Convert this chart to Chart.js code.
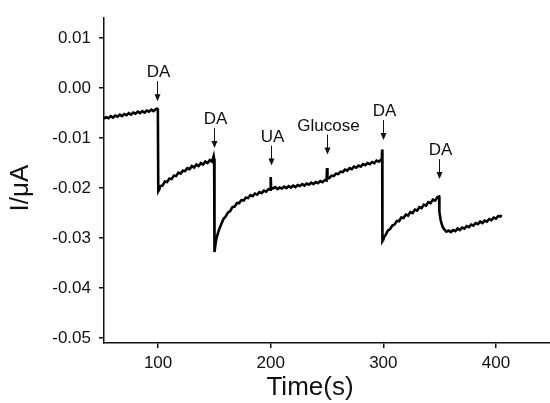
<!DOCTYPE html>
<html>
<head>
<meta charset="utf-8">
<script src="https://cdn.jsdelivr.net/npm/chart.js@4"></script>
<style>
  body { margin: 0; background: #fff; }
  #wrap { width: 550px; height: 403px; }
</style>
</head>
<body>
<div id="wrap"><canvas id="ampChart" width="550" height="403"></canvas></div>
<script>
// amperometric trace
const timeS = [
  52, 54, 56, 58, 60, 62, 64, 66, 68, 70, 72, 74, 76, 78, 80, 82, 84, 86, 88, 90, 92, 94, 96, 98, 99.5, 99.8,
  100.2, 101, 102, 104, 106, 108, 110, 112, 114, 116, 118, 120, 122, 124, 126, 128, 130, 132, 134, 136, 138, 140,
  142, 144, 146, 148, 149.4, 149.8,
  150.1, 151, 152, 154, 156, 158, 160, 162, 164, 166, 168, 170, 172, 174, 176, 178, 180, 182, 184, 186, 188, 190,
  192, 194, 196, 198, 199.6, 200, 200.4, 202, 204, 206, 208, 210, 212, 214, 216, 218, 220, 222, 224, 226, 228, 230,
  232, 234, 236, 238, 240, 242, 244, 246, 248, 249.6, 250, 250.4, 252, 254, 256, 258, 260, 262, 264, 266, 268, 270,
  272, 274, 276, 278, 280, 282, 284, 286, 288, 290, 292, 294, 296, 298, 298.6, 299,
  299.2, 300, 301, 302, 304, 306, 308, 310, 312, 314, 316, 318, 320, 322, 324, 326, 328, 330, 332, 334, 336, 338,
  340, 342, 344, 346, 348, 349.5,
  349.8, 351, 352, 353, 354, 356, 358, 360, 362, 364, 366, 368, 370, 372, 374, 376, 378, 380, 382, 384, 386, 388,
  390, 392, 394, 396, 398, 400, 402, 404, 405
];
const currentUA = [
  -0.0061, -0.0058, -0.0060, -0.0056, -0.0059, -0.0055, -0.0057, -0.0053, -0.0056, -0.0052, -0.0054, -0.0050, -0.0053,
  -0.0049, -0.0051, -0.0047, -0.0050, -0.0046, -0.0049, -0.0045, -0.0047, -0.0043, -0.0046, -0.0042, -0.0041, -0.0040,
  -0.0206, -0.0203, -0.0196, -0.0195, -0.0187, -0.0188, -0.0181, -0.0182, -0.0175, -0.0176, -0.0169, -0.0171, -0.0165,
  -0.0166, -0.0160, -0.0162, -0.0156, -0.0159, -0.0153, -0.0156, -0.0150, -0.0153, -0.0147, -0.0150, -0.0144, -0.0147,
  -0.0136, -0.0142,
  -0.0328, -0.0312, -0.0299, -0.0284, -0.0273, -0.0262, -0.0257, -0.0249, -0.0246, -0.0238, -0.0237, -0.0230, -0.0230,
  -0.0224, -0.0225, -0.0219, -0.0220, -0.0214, -0.0216, -0.0211, -0.0213, -0.0208, -0.0210, -0.0205, -0.0207, -0.0202,
  -0.0203, -0.0178, -0.0199, -0.0201, -0.0198, -0.0202, -0.0199, -0.0201, -0.0197, -0.0200, -0.0196, -0.0199, -0.0195,
  -0.0198, -0.0194, -0.0196, -0.0192, -0.0195, -0.0191, -0.0193, -0.0189, -0.0192, -0.0188, -0.0190, -0.0186, -0.0188,
  -0.0184, -0.0185, -0.0160, -0.0181, -0.0180, -0.0175, -0.0176, -0.0171, -0.0172, -0.0167, -0.0168, -0.0163, -0.0165,
  -0.0160, -0.0162, -0.0157, -0.0159, -0.0155, -0.0157, -0.0152, -0.0154, -0.0150, -0.0152, -0.0148, -0.0150, -0.0145,
  -0.0147, -0.0143, -0.0144, -0.0123,
  -0.0306, -0.0303, -0.0297, -0.0294, -0.0285, -0.0282, -0.0275, -0.0273, -0.0266, -0.0266, -0.0259, -0.0260, -0.0253,
  -0.0255, -0.0248, -0.0250, -0.0243, -0.0245, -0.0238, -0.0240, -0.0233, -0.0235, -0.0228, -0.0230, -0.0223, -0.0225,
  -0.0218, -0.0217,
  -0.0248, -0.0265, -0.0273, -0.0279, -0.0282, -0.0287, -0.0285, -0.0288, -0.0284, -0.0286, -0.0281, -0.0284, -0.0279,
  -0.0281, -0.0276, -0.0278, -0.0273, -0.0275, -0.0270, -0.0272, -0.0267, -0.0270, -0.0265, -0.0267, -0.0262, -0.0264,
  -0.0259, -0.0261, -0.0256, -0.0257, -0.0254
];

// injections marked on the trace
const eventTimes = [99.5, 150, 200.5, 250, 299.5, 349.5];
const eventNames = ["DA", "DA", "UA", "Glucose", "DA", "DA"];
const eventTips = [-0.0026, -0.0120, -0.0155, -0.0133, -0.0104, -0.0182];

const xTicks = [100, 200, 300, 400];
const yTicks = [0.01, 0.00, -0.01, -0.02, -0.03, -0.04, -0.05];

const FONT = "'Liberation Sans', Arial, sans-serif";

const points = timeS.map((t, i) => ({ x: t, y: currentUA[i] }));

const markerPlugin = {
    id: "markers",
    afterDatasetsDraw(chart) {
        const ctx = chart.ctx;
        const xs = chart.scales.x;
        const ys = chart.scales.y;
        ctx.save();
        ctx.fillStyle = "#111";
        ctx.strokeStyle = "#111";
        ctx.lineWidth = 1;
        ctx.font = "17px " + FONT;
        ctx.textAlign = "center";
        ctx.textBaseline = "alphabetic";
        eventTimes.forEach((t, i) => {
            let px = Math.round(xs.getPixelForValue(t)) + 0.5;
            let tip = ys.getPixelForValue(eventTips[i]);
            ctx.beginPath();
            ctx.moveTo(px, tip - 20);
            ctx.lineTo(px, tip - 5);
            ctx.stroke();
            ctx.beginPath();
            ctx.moveTo(px - 3, tip - 7);
            ctx.lineTo(px + 3, tip - 7);
            ctx.lineTo(px, tip);
            ctx.closePath();
            ctx.fill();
            ctx.fillText(eventNames[i], px + 1, tip - 24);
        });
        ctx.restore();
    }
};

const titlePlugin = {
    id: "axisTitles",
    afterDraw(chart) {
        const ctx = chart.ctx;
        ctx.save();
        ctx.fillStyle = "#111";
        ctx.font = "26px " + FONT;
        ctx.textAlign = "center";
        ctx.textBaseline = "middle";
        ctx.fillText("Time(s)", 310, 388);
        ctx.translate(21, 188);
        ctx.rotate(-Math.PI / 2);
        ctx.fillText("I/\u03bcA", 0, 0);
        ctx.restore();
    }
};

new Chart(document.getElementById("ampChart").getContext("2d"), {
    type: "line",
    data: {
        datasets: [{
            data: points,
            borderColor: "#000",
            borderWidth: 2.6,
            pointRadius: 0,
            tension: 0,
            fill: false
        }]
    },
    options: {
        responsive: false,
        animation: false,
        layout: { padding: { top: 12, right: 0, left: 0, bottom: 0 } },
        plugins: { legend: { display: false }, tooltip: { enabled: false } },
        scales: {
            x: {
                type: "linear",
                min: 52,
                max: 448,
                afterFit(scale) { scale.height = 60; },
                afterBuildTicks(scale) { scale.ticks = xTicks.map(v => ({ value: v })); },
                grid: { drawOnChartArea: false, drawTicks: true, tickLength: 5, color: "#111", lineWidth: 1.5 },
                border: { display: true, color: "#111", width: 1.5 },
                ticks: { color: "#111", font: { family: FONT, size: 17 }, padding: 5, maxRotation: 0 }
            },
            y: {
                min: -0.051,
                max: 0.014,
                afterFit(scale) { scale.width = 104; },
                afterBuildTicks(scale) { scale.ticks = yTicks.map(v => ({ value: v })); },
                grid: { drawOnChartArea: false, drawTicks: true, tickLength: 5, color: "#111", lineWidth: 1.5 },
                border: { display: true, color: "#111", width: 1.5 },
                ticks: {
                    color: "#111",
                    font: { family: FONT, size: 17 },
                    padding: 8,
                    callback: v => v.toFixed(2)
                }
            }
        }
    },
    plugins: [markerPlugin, titlePlugin]
});
</script>
</body>
</html>
